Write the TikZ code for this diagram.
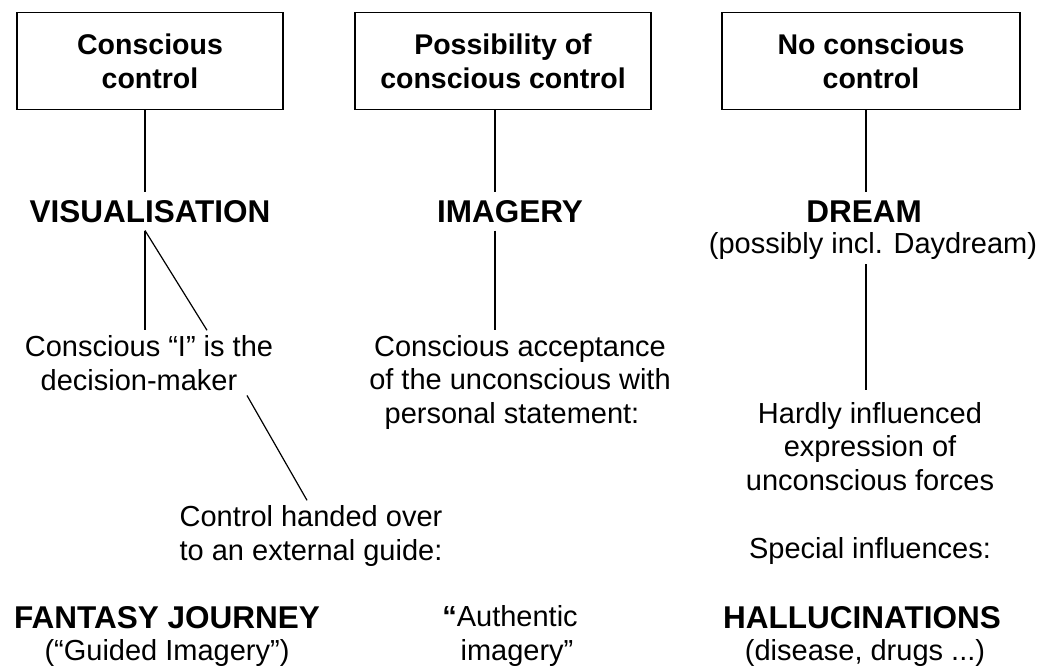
\documentclass[tikz,border=0pt]{standalone}
\usepackage{fontspec}
\setmainfont{Liberation Sans}
\begin{document}
\begin{tikzpicture}[x=1pt,y=-1pt,
  boxnode/.style={draw, line width=1.4pt, minimum width=#1, minimum height=97pt, inner sep=0pt, align=center, font=\fontsize{28.5}{34}\selectfont\bfseries},
  head/.style={font=\fontsize{31.5}{36}\selectfont\bfseries, inner sep=8pt, anchor=base},
  body/.style={font=\fontsize{29}{33.5}\selectfont, inner sep=5pt, align=center, anchor=base},
  conn/.style={line width=1.2pt}]
\useasboundingbox (0,0) rectangle (1046,669);
\coordinate (cL) at (145,0);
\coordinate (cD) at (207,0);
\coordinate (cE) at (247,0);
\coordinate (cF) at (307,0);
\coordinate (cM) at (495,0);
\coordinate (cR) at (866,0);
% boxes
\node[boxnode=266pt] (box1) at (150,61) {Conscious\\control};
\node[boxnode=296pt] (box2) at (503,61) {Possibility of\\conscious control};
\node[boxnode=298pt] (box3) at (871,61) {No conscious\\control};
% headings
\node[head] (vis) at (150,222) {VISUALISATION};
\node[head] (img) at (510,222) {IMAGERY};
\node[head] (dream) at (864,222) {DREAM};
\node[body] (dsub) at (873,253) {(possibly incl. Daydream)};
% body texts (anchor base = baseline of the last line)
\node[body] (cons) at (149,390) {Conscious “I” is the\\decision-maker\hspace*{20pt}};
\node[body] (acc) at (520,423) {Conscious acceptance\\of the unconscious with\\personal statement:\hspace*{16pt}};
\node[body] (hardly) at (870,490) {Hardly influenced\\expression of\hspace*{30pt}\\unconscious forces};
\node[body] (ctrl) at (311,560) {Control handed over\\to an external guide:};
\node[body] (spec) at (870,558) {Special influences:};
% bottom row
\node[head] (fant) at (167,628) {FANTASY JOURNEY};
\node[body] (guided) at (167,660) {(“Guided Imagery”)};
\node[body] (auth) at (510,660) {\textbf{“}Authentic\\\hspace*{14pt}imagery”};
\node[head] (hall) at (862,628) {HALLUCINATIONS};
\node[body] (dis) at (865,660) {(disease, drugs ...)};
% connectors
\draw[conn] (box1.south -| cL) -- (vis.north -| cL);
\draw[conn] (vis.south -| cL) -- (cons.north -| cL);
\draw[conn] (vis.south -| cL) -- (cons.north -| cD);
\draw[conn] (cons.south -| cE) -- (ctrl.north -| cF);
\draw[conn] (box2.south -| cM) -- (img.north -| cM);
\draw[conn] (img.south -| cM) -- (acc.north -| cM);
\draw[conn] (box3.south -| cR) -- (dream.north -| cR);
\draw[conn, shorten >=7pt] (dsub.south -| cR) -- (hardly.north -| cR);
\end{tikzpicture}
\end{document}
